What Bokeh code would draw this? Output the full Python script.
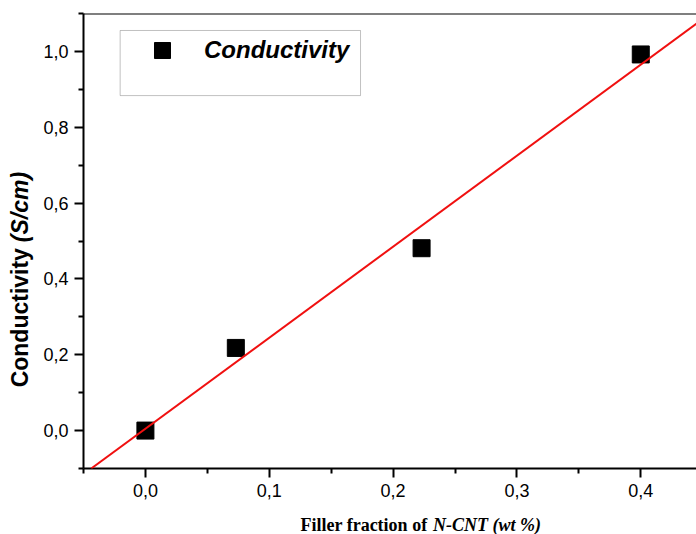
import math
from bokeh.plotting import figure
from bokeh.layouts import column, row
from bokeh.models import (Range1d, FixedTicker, CustomJSTickFormatter, Label, Span,
                          Slope, Legend, LegendItem, ColumnDataSource, BoxAnnotation)
from bokeh.embed import file_html
from bokeh.resources import INLINE

# ---- data ----
filler_fraction = [0.0, 0.073, 0.223, 0.400]      # wt %
conductivity = [0.0, 0.218, 0.481, 0.992]          # S/cm
fit_slope = 2.40
fit_intercept = 0.005

x_major = [0.0, 0.1, 0.2, 0.3, 0.4]
x_minor = [-0.05, 0.05, 0.15, 0.25, 0.35, 0.45]
y_major = [0.0, 0.2, 0.4, 0.6, 0.8, 1.0]
y_minor = [-0.1, 0.1, 0.3, 0.5, 0.7, 0.9, 1.1]

x_start, x_end = -0.05, 0.445
y_start, y_end = -0.1, 1.1

src = ColumnDataSource(dict(x=filler_fraction, y=conductivity))

p = figure(width=656, height=510, output_backend="svg", toolbar_location=None,
           x_range=Range1d(x_start, x_end), y_range=Range1d(y_start, y_end),
           min_border_left=43, min_border_right=0, min_border_top=13, min_border_bottom=42)
p.grid.visible = False
p.outline_line_color = None
p.background_fill_color = "white"
p.border_fill_color = "white"

fmt = CustomJSTickFormatter(code="return tick.toFixed(1).replace('.', ',');")
for ax, maj, mnr in ((p.xaxis[0], x_major, x_minor), (p.yaxis[0], y_major, y_minor)):
    ax.ticker = FixedTicker(ticks=maj, minor_ticks=mnr)
    ax.formatter = fmt
    ax.axis_line_width = 2
    ax.axis_line_color = "black"
    ax.major_tick_line_width = 2
    ax.minor_tick_line_width = 2
    ax.major_tick_line_color = "black"
    ax.minor_tick_line_color = "black"
    ax.major_tick_in = 0
    ax.major_tick_out = 9
    ax.minor_tick_in = 0
    ax.minor_tick_out = 5
    ax.major_label_standoff = 6
    ax.major_label_text_font = "Liberation Sans"
    ax.major_label_text_font_size = "18px"
    ax.major_label_text_color = "black"

# top frame border
p.add_layout(Span(location=y_end, dimension="width", line_color="black", line_width=2))

r = p.scatter("x", "y", source=src, marker="square", size=17,
              fill_color="black", line_color="black")

p.add_layout(Slope(gradient=fit_slope, y_intercept=fit_intercept,
                   line_color="#f01010", line_width=2))

# legend frame (taller than its single entry, as in the reference)
p.add_layout(BoxAnnotation(left=-0.0204, right=0.1737, top=1.0552, bottom=0.8835,
                           fill_color="white", fill_alpha=1,
                           line_color="#333333", line_width=1, level="annotation"))
legend = Legend(items=[LegendItem(label="Conductivity", renderers=[r])],
                location=(37, 398), padding=0, margin=0, spacing=0,
                glyph_width=84, glyph_height=40, label_height=40, label_width=156,
                label_standoff=0, border_line_color=None,
                background_fill_alpha=0,
                label_text_font="Liberation Sans", label_text_font_style="bold italic",
                label_text_font_size="24px", label_text_color="black")
p.add_layout(legend)

# y-axis title panel (mixed styles)
yfig = figure(width=40, height=510, output_backend="svg", toolbar_location=None,
              title=None, x_range=Range1d(0, 40), y_range=Range1d(0, 510),
              x_axis_type=None, y_axis_type=None, min_border=0)
yfig.grid.visible = False
yfig.outline_line_color = None
yfig.add_layout(Label(x=19, y=169, angle=math.pi / 2,
                      text="Conductivity", text_align="center", text_baseline="middle",
                      text_font="Liberation Sans", text_font_style="bold",
                      text_font_size="23px", text_color="black"))
yfig.add_layout(Label(x=19, y=293, angle=math.pi / 2,
                      text="(S/cm)", text_align="center", text_baseline="middle",
                      text_font="Liberation Sans", text_font_style="bold italic",
                      text_font_size="23px", text_color="black"))

# x-axis title panel (mixed styles)
xfig = figure(width=696, height=24, output_backend="svg", toolbar_location=None,
              title=None, x_range=Range1d(0, 696), y_range=Range1d(0, 24),
              x_axis_type=None, y_axis_type=None, min_border=0)
xfig.grid.visible = False
xfig.outline_line_color = None
xfig.add_layout(Label(x=300, y=10, text="Filler fraction of", text_align="left",
                      text_baseline="alphabetic", text_font="Liberation Serif",
                      text_font_style="bold", text_font_size="18px", text_color="black"))
xfig.add_layout(Label(x=432.5, y=10, text="N-CNT (wt %)", text_align="left",
                      text_baseline="alphabetic", text_font="Liberation Serif",
                      text_font_style="bold italic", text_font_size="18px",
                      text_color="black"))

layout = column(row(yfig, p, spacing=0), xfig, spacing=0)
open("out.html", "w").write(file_html(layout, INLINE))
